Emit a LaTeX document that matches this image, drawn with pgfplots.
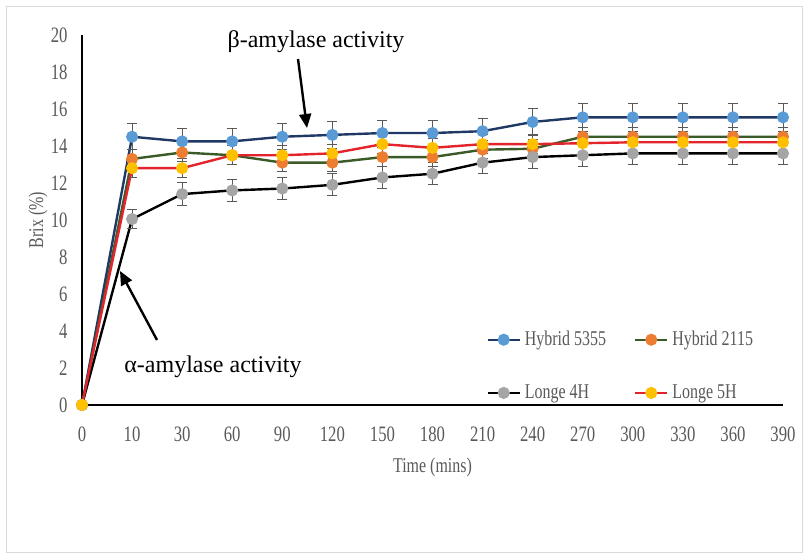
\documentclass[border=0pt]{standalone}
\usepackage{fontspec}
\setmainfont{Liberation Serif}
\newfontfamily\condfont[FakeStretch=0.76]{Liberation Serif}
\usepackage{pgfplots}
\pgfplotsset{compat=1.18}
\usepackage{pgfplotstable}
\usetikzlibrary{arrows.meta}
\definecolor{tickgray}{HTML}{595959}
\definecolor{hbline}{HTML}{1F3864}
\definecolor{hbmark}{HTML}{5B9BD5}
\definecolor{hgline}{HTML}{3A5A28}
\definecolor{hgmark}{HTML}{ED7D31}
\definecolor{l4mark}{HTML}{A5A5A5}
\definecolor{l5line}{HTML}{E3242B}
\definecolor{l5mark}{HTML}{FFC000}
\definecolor{framegray}{HTML}{D9D9D9}

\pgfplotstableread{
x y e
0 0 0
1 14.5 0.7
2 14.25 0.7
3 14.25 0.7
4 14.5 0.7
5 14.6 0.75
6 14.7 0.7
7 14.7 0.7
8 14.8 0.7
9 15.3 0.75
10 15.55 0.75
11 15.55 0.75
12 15.55 0.75
13 15.55 0.75
14 15.55 0.75
}\hfivethree
\pgfplotstableread{
x y e
0 0 0
1 13.3 0.5
2 13.65 0.5
3 13.5 0.5
4 13.1 0.5
5 13.1 0.5
6 13.4 0.5
7 13.4 0.5
8 13.8 0.5
9 13.85 0.5
10 14.5 0.5
11 14.5 0.5
12 14.5 0.5
13 14.5 0.5
14 14.5 0.5
}\htwoone
\pgfplotstableread{
x y e
0 0 0
1 10.05 0.5
2 11.4 0.6
3 11.6 0.6
4 11.7 0.6
5 11.9 0.6
6 12.3 0.6
7 12.5 0.6
8 13.1 0.6
9 13.4 0.6
10 13.5 0.6
11 13.6 0.6
12 13.6 0.6
13 13.6 0.6
14 13.6 0.6
}\lfour
\pgfplotstableread{
x y e
0 0 0
1 12.8 0.5
2 12.8 0.5
3 13.5 0.5
4 13.5 0.5
5 13.6 0.5
6 14.1 0.5
7 13.9 0.5
8 14.1 0.5
9 14.1 0.5
10 14.15 0.5
11 14.2 0.5
12 14.2 0.5
13 14.2 0.5
14 14.2 0.5
}\lfive

\begin{document}
\begin{tikzpicture}
\useasboundingbox (-41pt,-77.5pt) rectangle (363.5pt,202.5pt);
\draw[framegray, line width=0.5pt] (-37.5pt,-74pt) rectangle (360pt,199pt);
\begin{axis}[
  at={(0,0)}, anchor=south west,
  scale only axis, width=350.5pt, height=185pt,
  xmin=0, xmax=14, ymin=0, ymax=20,
  axis x line=bottom, axis y line=left,
  axis line style={black, line width=1pt, -},
  xtick={0,...,14},
  xticklabels={0,10,30,60,90,120,150,180,210,240,270,300,330,360,390},
  ytick={0,2,...,20},
  major tick length=0pt,
  /pgf/number format/assume math mode=true,
  ticklabel style={font=\condfont\fontsize{11}{12}\selectfont, text=tickgray},
  xticklabel style={anchor=center, yshift=-14.5pt},
  yticklabel style={anchor=east, inner sep=0pt, xshift=-7pt},
  xlabel={Time (mins)}, ylabel={Brix (\%)},
  every axis x label/.style={at={(axis description cs:0.5,0)}, yshift=-31pt, anchor=center, font=\condfont\fontsize{10.5}{12}\selectfont, text=tickgray},
  every axis y label/.style={at={(axis description cs:0,0.5)}, xshift=-22pt, rotate=90, anchor=center, font=\condfont\fontsize{10.5}{12}\selectfont, text=tickgray},
  clip=false,
  legend columns=2,
  legend cell align=left,
  legend style={at={(axis cs:10.78,2.1)}, anchor=center, draw=none, fill=none,
    font=\condfont\fontsize{10.5}{12}\selectfont, text=tickgray, row sep=14pt,
    cells={anchor=west},
    /tikz/every even column/.append style={column sep=12pt}},
  legend image code/.code={\draw[mark repeat=2,mark phase=2,#1] plot coordinates {(0pt,0pt)(8pt,0pt)(16pt,0pt)};},
  every axis plot/.append style={line width=1.2pt, mark=*, mark size=2.4pt},
  error bars/error bar style={draw=tickgray, line width=0.5pt},
  error bars/error mark options={draw=tickgray, line width=0.5pt, mark size=2.5pt, rotate=90},
]
\addplot[hbline, mark options={fill=hbmark, draw=hbmark}, error bars/.cd, y dir=both, y explicit] table[x=x, y=y, y error=e] {\hfivethree};
\addlegendentry{Hybrid 5355}
\addplot[hgline, mark options={fill=hgmark, draw=hgmark}, error bars/.cd, y dir=both, y explicit] table[x=x, y=y, y error=e] {\htwoone};
\addlegendentry{Hybrid 2115}
\addplot[black, mark options={fill=l4mark, draw=l4mark}, error bars/.cd, y dir=both, y explicit] table[x=x, y=y, y error=e] {\lfour};
\addlegendentry{Longe 4H}
\addplot[l5line, mark options={fill=l5mark, draw=l5mark}, error bars/.cd, y dir=both, y explicit] table[x=x, y=y, y error=e] {\lfive};
\addlegendentry{Longe 5H}
\end{axis}
\draw[black, line width=1.2pt, -{Triangle[length=7pt,width=6pt]}] (108pt,173pt) -- (112.5pt,138.5pt);
\draw[black, line width=1.2pt, -{Triangle[length=7pt,width=6pt]}] (37.5pt,32.5pt) -- (19pt,67pt);
\node[font=\fontsize{12}{14}\selectfont] at (117pt,181.5pt) {β-amylase activity};
\node[font=\fontsize{12}{14}\selectfont] at (65.5pt,19pt) {α-amylase activity};
\end{tikzpicture}
\end{document}
